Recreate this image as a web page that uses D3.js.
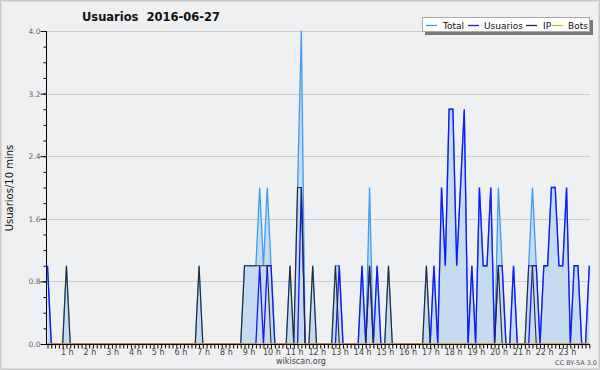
<!DOCTYPE html>
<html>
<head>
<meta charset="utf-8">
<script src="https://cdn.jsdelivr.net/npm/d3@7"></script>
<style>
html,body{margin:0;padding:0;background:#eff0f2;}
svg{display:block;}
text{font-family:"DejaVu Sans",sans-serif;}
</style>
</head>
<body>
<svg id="chart" width="600" height="370"></svg>
<script>
// 10-minute slots, 144 per day (00:00 .. 23:50)
const total = [
  1,0,0,0,0,1,0,0,0,0,0,0,0,0,0,0,0,0,0,0,0,0,0,0,
  0,0,0,0,0,0,0,0,0,0,0,0,0,0,0,0,1,0,0,0,0,0,0,0,
  0,0,0,0,1,1,1,1,2,1,2,1,0,0,0,0,1,0,2,4,0,0,1,0,
  0,0,0,0,1,1,0,0,0,0,0,1,0,2,0,1,0,0,1,0,0,0,0,0,
  0,0,0,0,1,0,1,0,2,1,3,3,1,2,3,0,1,0,2,1,1,2,0,2,
  1,0,0,1,0,0,0,1,2,1,0,1,1,2,2,1,1,2,0,1,1,0,0,1
];
const usuarios = [
  1,0,0,0,0,0,0,0,0,0,0,0,0,0,0,0,0,0,0,0,0,0,0,0,
  0,0,0,0,0,0,0,0,0,0,0,0,0,0,0,0,0,0,0,0,0,0,0,0,
  0,0,0,0,0,0,0,0,1,0,1,1,0,0,0,0,0,0,0,2,0,0,0,0,
  0,0,0,0,0,1,0,0,0,0,0,1,0,1,0,1,0,0,0,0,0,0,0,0,
  0,0,0,0,0,0,1,0,2,1,3,3,1,2,3,0,1,0,2,1,1,2,0,1,
  1,0,0,1,0,0,0,0,1,1,0,1,1,2,2,1,1,2,0,1,1,0,0,1
];
const ip = [
  0,0,0,0,0,1,0,0,0,0,0,0,0,0,0,0,0,0,0,0,0,0,0,0,
  0,0,0,0,0,0,0,0,0,0,0,0,0,0,0,0,1,0,0,0,0,0,0,0,
  0,0,0,0,1,1,1,1,1,1,1,0,0,0,0,0,1,0,2,2,0,0,1,0,
  0,0,0,0,1,0,0,0,0,0,0,0,0,1,0,0,0,0,1,0,0,0,0,0,
  0,0,0,0,1,0,0,0,0,0,0,0,0,0,0,0,0,0,0,0,0,0,0,1,
  0,0,0,0,0,0,0,1,1,0,0,0,0,0,0,0,0,0,0,0,0,0,0,0
];
const bots = [
  0,0,0,0,0,0,0,0,0,0,0,0,0,0,0,0,0,0,0,0,0,0,0,0,
  0,0,0,0,0,0,0,0,0,0,0,0,0,0,0,0,0,0,0,0,0,0,0,0,
  0,0,0,0,0,0,0,0,0,0,0,0,0,0,0,0,0,0,0,0,0,0,0,0,
  0,0,0,0,0,0,0,0,0,0,0,0,0,0,0,0,0,0,0,0,0,0,0,0,
  0,0,0,0,0,0,0,0,0,0,0,0,0,0,0,0,0,0,0,0,0,0,0,0,
  0,0,0,0,0,0,0,0,0,0,0,0,0,0,0,0,0,0,0,0,0,0,0,0
];
const hourLabels = ["1 h","2 h","3 h","4 h","5 h","6 h","7 h","8 h","9 h","10 h","11 h","12 h",
  "13 h","14 h","15 h","16 h","17 h","18 h","19 h","20 h","21 h","22 h","23 h"];
const yTicks = [0, 0.8, 1.6, 2.4, 3.2, 4.0];
const seriesNames = ["Total","Usuarios","IP","Bots"];
const seriesColors = ["#3d9df2","#1515ff","#2a2a2a","#ffa31a"];

const svg = d3.select("#chart");
const W = 600, H = 370;
const pLeft = 46, pRight = 590, pTop = 31, pBottom = 344;

// frame
svg.append("rect").attr("x",0.5).attr("y",0.5).attr("width",W-1).attr("height",H-1)
  .attr("fill","#eff0f2").attr("stroke","#c8c8c8").attr("stroke-width",1);
svg.append("rect").attr("x",1.5).attr("y",1.5).attr("width",W-3).attr("height",H-3)
  .attr("fill","none").attr("stroke","#dcdcdc").attr("stroke-width",1);

const x = d3.scaleLinear().domain([0,143]).range([47.5, 589.3]);
const y = d3.scaleLinear().domain([0,4]).range([pBottom, pTop]);
const idx = d3.range(144);

// grid
svg.append("g").selectAll("line").data(yTicks.filter(d=>d>0)).join("line")
  .attr("x1",pLeft).attr("x2",pRight)
  .attr("y1",d=>Math.round(y(d))+0.5).attr("y2",d=>Math.round(y(d))+0.5)
  .attr("stroke","#cdcdcd").attr("stroke-width",1);

// area of total
svg.append("path").datum(idx)
  .attr("d", d3.area().x(i=>x(i)).y0(y(0)).y1(i=>y(total[i])))
  .attr("fill","#c5dcf0");

const series = [total, usuarios, ip, bots];
const widths = [1.3, 1.3, 1.1, 1.3];
series.forEach((s,k)=>{
  svg.append("path").datum(idx)
    .attr("d", d3.line().x(i=>x(i)).y(i=>y(s[i])))
    .attr("fill","none").attr("stroke",seriesColors[k])
    .attr("stroke-width",widths[k]).attr("stroke-linejoin","miter");
});

// y axis
const yAxis = d3.axisLeft(y).tickValues(d3.range(0,4.01,0.2)).tickSize(3).tickFormat("");
const gy = svg.append("g").attr("transform",`translate(${pLeft+0.5},0)`).call(yAxis);
gy.select(".domain").attr("stroke","#000").attr("d",`M0,${pTop}V${pBottom}`);
gy.selectAll(".tick line").attr("stroke","#000");
const gy2 = svg.append("g").attr("transform",`translate(${pLeft+0.5},0)`)
  .call(d3.axisLeft(y).tickValues(yTicks).tickSize(6).tickFormat(d3.format(".1f")));
gy2.select(".domain").remove();
gy2.selectAll(".tick line").attr("stroke","#000");
gy2.selectAll(".tick text").attr("font-family","DejaVu Sans").attr("font-size","7.5px")
  .attr("fill","#666").attr("x",-6);

// x axis
const gx = svg.append("g").attr("transform",`translate(0,${pBottom+0.5})`)
  .call(d3.axisBottom(x).tickValues(idx).tickSize(4).tickFormat(""));
gx.select(".domain").attr("stroke","#000").attr("d",`M${pLeft},0H${pRight}`);
gx.selectAll(".tick line").attr("stroke","#000");
svg.append("g").selectAll("text").data(hourLabels).join("text")
  .attr("x",(d,i)=>x((i+1)*6)-3).attr("y",355)
  .attr("text-anchor","middle").attr("font-size","8px").attr("fill","#444")
  .text(d=>d);

// title
svg.append("text").attr("x",151).attr("y",21).attr("text-anchor","middle")
  .attr("font-size","11.5px").attr("font-weight","bold").attr("fill","#111")
  .style("white-space","pre").text("Usuarios  2016-06-27");

// y label
svg.append("text").attr("transform","translate(13,188) rotate(-90)")
  .attr("text-anchor","middle").attr("font-family","DejaVu Sans Mono")
  .attr("font-size","10px").attr("fill","#111").text("Usuarios/10 mins");

// footer
svg.append("text").attr("x",301).attr("y",364).attr("text-anchor","middle")
  .attr("font-size","8px").attr("fill","#444").text("wikiscan.org");
svg.append("text").attr("x",597).attr("y",365).attr("text-anchor","end")
  .attr("font-size","6.5px").attr("fill","#555").text("CC BY-SA 3.0");

// legend
const lg = svg.append("g");
lg.append("rect").attr("x",425).attr("y",20).attr("width",168).attr("height",15).attr("fill","#7a7a7a");
lg.append("rect").attr("x",422.5).attr("y",17.5).attr("width",167).attr("height",14)
  .attr("fill","#fff").attr("stroke","#aaa");
const lx = [426, 468, 526, 552];
const tx = [443, 484, 543, 568];
seriesNames.forEach((n,k)=>{
  lg.append("line").attr("x1",lx[k]).attr("x2",lx[k]+11).attr("y1",25.5).attr("y2",25.5)
    .attr("stroke",seriesColors[k]).attr("stroke-width",1.3);
  lg.append("text").attr("x",tx[k]).attr("y",28.5).attr("font-size","9px").attr("fill","#111").text(n);
});
</script>
</body>
</html>
